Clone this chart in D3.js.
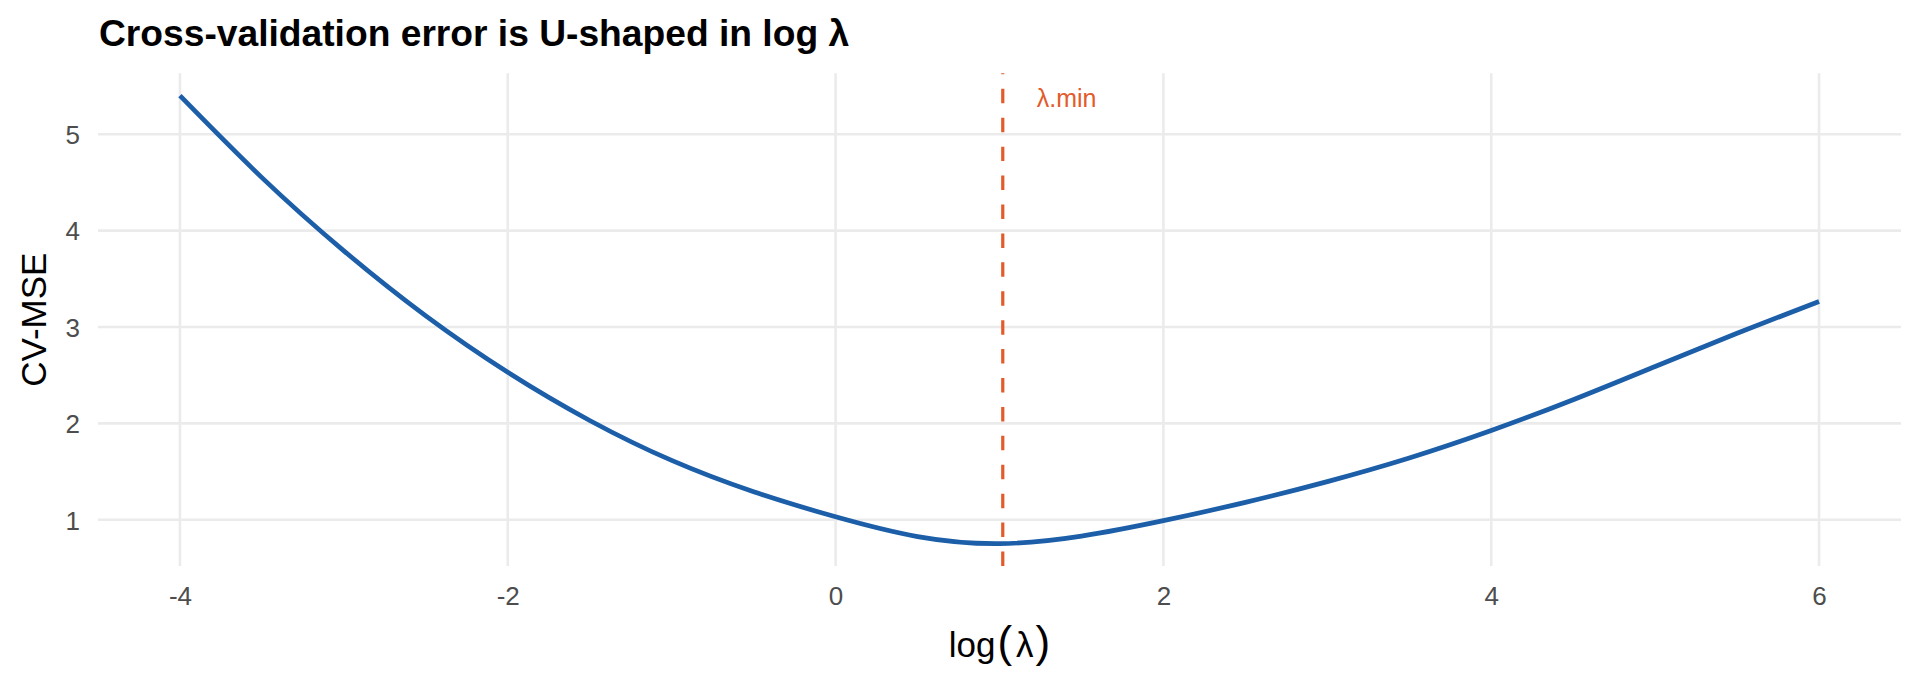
<!DOCTYPE html>
<html><head><meta charset="utf-8">
<script src="https://cdn.jsdelivr.net/npm/d3@7/dist/d3.min.js"></script>
<style>body{margin:0;background:#fff} svg{display:block}</style>
</head><body>
<svg id="chart" width="1920" height="691"></svg>
<script>
// ---- data ----
const logLambda = [-4,-3.5,-3,-2.5,-2,-1.5,-1,-0.5,0,0.5,1,1.5,2,2.5,3,3.5,4,4.5,5,5.5,6];
const cvMse     = [5.40,4.55,3.79,3.115,2.53,2.03,1.615,1.29,1.03,0.825,0.752,0.83,0.99,1.18,1.395,1.64,1.925,2.245,2.59,2.935,3.265];
const lambdaMin = 1.02;
const xTicks = [-4,-2,0,2,4,6];
const yTicks = [1,2,3,4,5];
const titleText = "Cross-validation error is U-shaped in log \u03bb";
const yTitle = "CV-MSE";
const vlineLabel = "\u03bb.min";

// ---- layout ----
const panel = {left: 98, right: 1901, top: 73.3, bottom: 566};
const FONT = "'Liberation Sans', Arial, Helvetica, sans-serif";
const blue = "#1c5fa8", orange = "#e35a2b";

const svg = d3.select("#chart");

function expand(ext){ const d = ext[1]-ext[0]; return [ext[0]-0.05*d, ext[1]+0.05*d]; }
const x = d3.scaleLinear().domain(expand(d3.extent(logLambda))).range([panel.left, panel.right]);
const y = d3.scaleLinear().domain(expand(d3.extent(cvMse))).range([panel.bottom, panel.top]);

// grid
const grid = svg.append("g").attr("stroke", "#ebebeb").attr("stroke-width", 2.6);
grid.selectAll("line.h").data(yTicks).join("line")
  .attr("x1", panel.left).attr("x2", panel.right)
  .attr("y1", d => y(d)).attr("y2", d => y(d));
grid.selectAll("line.v").data(xTicks).join("line")
  .attr("y1", panel.top).attr("y2", panel.bottom)
  .attr("x1", d => x(d)).attr("x2", d => x(d));

// axes (text only, ggplot minimal style)
const fmt = d => String(d);
const xAxis = d3.axisBottom(x).tickValues(xTicks).tickSize(0).tickPadding(0).tickFormat(fmt);
const gx = svg.append("g").attr("transform", `translate(0,${panel.bottom})`).call(xAxis);
gx.select(".domain").remove();
gx.selectAll("text").attr("dy", null).attr("y", 39)
  .attr("font-family", FONT).attr("font-size", 26).attr("fill", "#4d4d4d");

const yAxis = d3.axisLeft(y).tickValues(yTicks).tickSize(0).tickPadding(0).tickFormat(fmt);
const gy = svg.append("g").attr("transform", `translate(${panel.left},0)`).call(yAxis);
gy.select(".domain").remove();
gy.selectAll("text").attr("x", -18).attr("dy", "0.36em")
  .attr("font-family", FONT).attr("font-size", 26).attr("fill", "#4d4d4d");

// vline
const vx = x(lambdaMin);
svg.append("path")
  .attr("d", `M${vx},${panel.bottom}L${vx},${panel.top}`)
  .attr("stroke", orange).attr("stroke-width", 3.2)
  .attr("stroke-dasharray", "14.46,14.46").attr("fill", "none");

// curve
const line = d3.line().x((d,i) => x(logLambda[i])).y(d => y(d)).curve(d3.curveNatural);
svg.append("path").datum(cvMse)
  .attr("d", line)
  .attr("fill", "none").attr("stroke", blue).attr("stroke-width", 4.7)
  .attr("stroke-linejoin", "round");

// vline label
svg.append("text").attr("x", vx + 34).attr("y", 106.5)
  .attr("font-family", FONT).attr("font-size", 25).attr("fill", orange)
  .text(vlineLabel);

// title
svg.append("text").attr("x", 99).attr("y", 46)
  .attr("font-family", FONT).attr("font-weight", "bold").attr("font-size", 37.2).attr("fill", "#000")
  .text(titleText);

// y title
svg.append("text")
  .attr("transform", `translate(46,${(panel.top+panel.bottom)/2}) rotate(-90)`)
  .attr("text-anchor", "middle")
  .attr("font-family", FONT).attr("font-size", 35).attr("fill", "#000")
  .text(yTitle);

// x title: log(λ) with larger plotmath-style parens
const xt = svg.append("text")
  .attr("x", (panel.left+panel.right)/2).attr("y", 657)
  .attr("text-anchor", "middle")
  .attr("font-family", FONT).attr("font-size", 35).attr("fill", "#000");
xt.append("tspan").text("log");
xt.append("tspan").attr("font-size", 44).attr("dx", 2).text("(");
xt.append("tspan").attr("dx", 4).text("\u03bb");
xt.append("tspan").attr("font-size", 44).attr("dx", 2).text(")");
</script>
</body></html>
